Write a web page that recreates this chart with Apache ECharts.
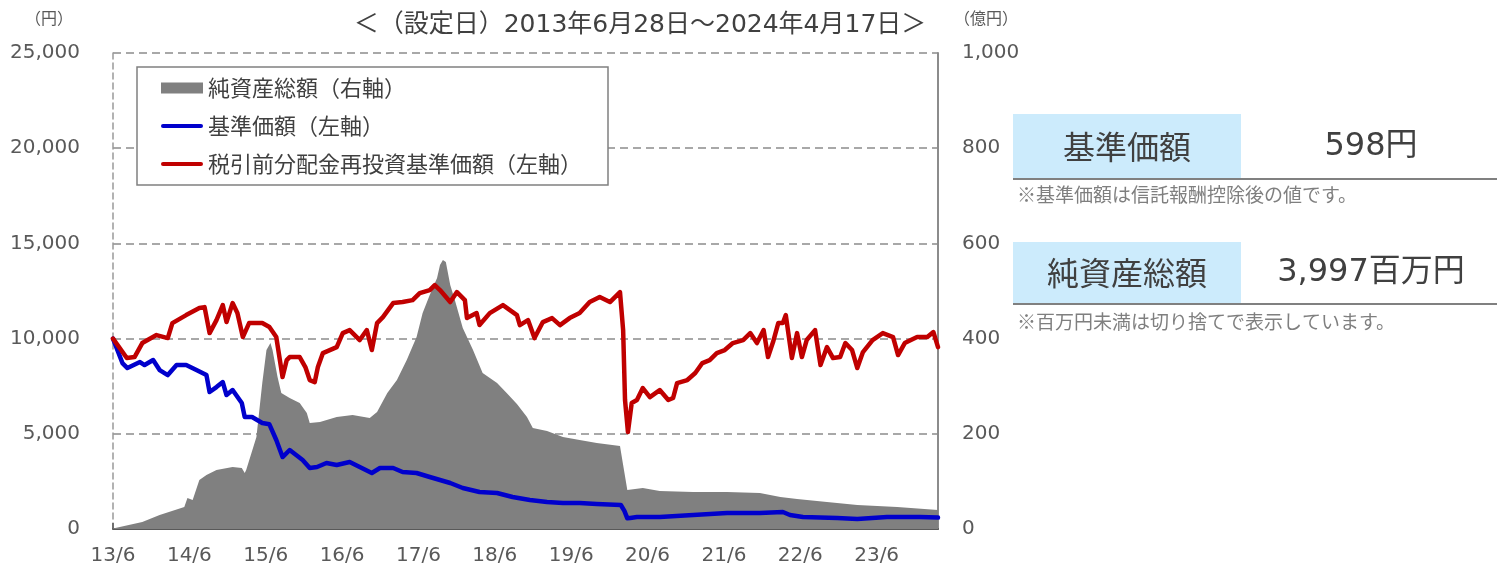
<!DOCTYPE html>
<html><head><meta charset="utf-8">
<script src="https://cdn.jsdelivr.net/npm/echarts@6/dist/echarts.min.js"></script>
<style>html,body{margin:0;padding:0;background:#fff}#c{width:1497px;height:572px}</style>
</head><body><div id="c"></div>
<script>
const startDate = '2013-06-28';
const endDate = '2024-04-17';
const xTickLabels = ['13/6','14/6','15/6','16/6','17/6','18/6','19/6','20/6','21/6','22/6','23/6'];
const titleText = '＜（設定日）2013年6月28日～2024年4月17日＞';
const seriesNames = ['純資産総額（右軸）','基準価額（左軸）','税引前分配金再投資基準価額（左軸）'];
const latestPrice = '598円';
const latestNav = '3,997百万円';

// 純資産総額 (億円)
const navDates = ['2013-06-28','2013-11-15','2014-02-06','2014-06-04','2014-06-19','2014-07-14','2014-08-15','2014-09-18','2014-11-05','2015-01-21','2015-03-06','2015-03-20','2015-03-27','2015-05-15','2015-06-12','2015-07-02','2015-07-21','2015-07-31','2015-08-24','2015-09-11','2015-10-21','2015-12-08','2016-01-11','2016-01-25','2016-03-14','2016-06-02','2016-08-17','2016-11-07','2016-12-12','2017-01-30','2017-03-17','2017-05-03','2017-06-19','2017-07-18','2017-08-21','2017-09-25','2017-10-09','2017-10-23','2017-11-06','2017-11-27','2017-12-19','2018-01-26','2018-03-16','2018-05-01','2018-07-09','2018-08-24','2018-10-12','2018-11-29','2018-12-27','2019-03-05','2019-05-20','2019-08-08','2019-10-29','2020-02-17','2020-03-03','2020-03-23','2020-06-05','2020-08-25','2021-02-01','2021-07-13','2021-12-17','2022-03-25','2022-06-13','2022-11-03','2023-03-28','2023-10-05','2024-04-17'];
const navValues = [1,14.7,29.4,46.2,65.1,60.9,102.9,113.4,123.9,130.2,128.1,117.6,123.9,193.2,306.6,375.9,390.6,375.9,319.2,285.6,275.1,264.6,243.6,222.6,224.7,235.2,239.4,233.1,245.7,285.6,312.9,354.9,403.2,453.6,491.4,527.1,554.4,564.9,560.7,512.4,480.9,422.1,375.9,327.6,306.6,285.6,262.5,235.2,212.1,205.8,193.2,186.9,180.6,174.3,134.4,81.9,86.1,79.8,77.7,77.7,75.6,67.2,63,56.7,50.4,46.2,39.97];

// 基準価額 (円)
const priceDates = ['2013-06-28','2013-08-12','2013-09-05','2013-11-04','2013-11-26','2014-01-06','2014-02-06','2014-03-17','2014-04-28','2014-06-13','2014-08-01','2014-09-18','2014-10-03','2014-11-05','2014-12-05','2014-12-23','2015-01-21','2015-03-06','2015-03-20','2015-04-24','2015-06-12','2015-07-16','2015-08-18','2015-09-17','2015-10-21','2015-12-22','2016-01-25','2016-02-29','2016-04-14','2016-06-02','2016-08-03','2016-09-20','2016-11-17','2016-12-26','2017-02-27','2017-04-13','2017-06-19','2017-08-21','2017-10-09','2017-11-27','2018-01-26','2018-04-16','2018-07-09','2018-09-21','2018-12-13','2019-03-05','2019-05-20','2019-08-08','2019-10-29','2020-02-21','2020-03-09','2020-03-23','2020-04-06','2020-05-08','2020-08-25','2021-02-01','2021-07-13','2021-12-17','2022-04-06','2022-05-10','2022-07-11','2022-12-22','2023-03-28','2023-08-17','2024-01-22','2024-04-17'];
const priceValues = [10000,8715,8453,8768,8610,8873,8348,8085,8610,8610,8348,8085,7193,7455,7718,7035,7298,6615,5880,5880,5565,5500,4673,3780,4148,3623,3203,3255,3465,3360,3518,3255,2940,3203,3203,2993,2940,2730,2573,2415,2153,1943,1890,1680,1523,1418,1365,1365,1313,1260,950,560,580,630,630,735,840,840,893,735,630,578,525,630,630,598];

// 税引前分配金再投資基準価額 (円)
const reinvDates = ['2013-06-28','2013-09-02','2013-10-09','2013-11-15','2014-01-22','2014-03-17','2014-04-08','2014-06-13','2014-08-15','2014-09-09','2014-10-03','2014-11-05','2014-12-05','2014-12-23','2015-01-21','2015-02-13','2015-03-11','2015-04-10','2015-06-12','2015-07-16','2015-08-18','2015-09-17','2015-10-07','2015-10-21','2015-12-08','2016-01-04','2016-01-25','2016-02-18','2016-03-04','2016-03-28','2016-06-02','2016-07-01','2016-08-03','2016-09-20','2016-10-24','2016-11-17','2016-12-12','2017-01-09','2017-02-27','2017-04-13','2017-05-31','2017-07-04','2017-08-21','2017-09-14','2017-10-09','2017-11-27','2017-12-29','2018-02-05','2018-02-15','2018-04-02','2018-04-16','2018-06-04','2018-08-06','2018-10-12','2018-10-26','2018-12-04','2019-01-04','2019-02-13','2019-03-29','2019-05-06','2019-06-21','2019-08-08','2019-09-25','2019-11-12','2019-12-31','2020-02-17','2020-03-03','2020-03-12','2020-03-26','2020-04-13','2020-05-08','2020-06-05','2020-07-09','2020-08-25','2020-10-05','2020-10-28','2020-11-16','2021-01-04','2021-02-11','2021-03-17','2021-04-21','2021-05-25','2021-07-02','2021-08-10','2021-09-28','2021-11-01','2021-12-03','2022-01-04','2022-01-25','2022-02-18','2022-03-15','2022-04-06','2022-04-20','2022-05-19','2022-06-13','2022-07-06','2022-07-29','2022-09-07','2022-10-03','2022-11-03','2022-12-02','2023-01-05','2023-01-30','2023-03-03','2023-03-28','2023-04-24','2023-06-09','2023-07-28','2023-09-15','2023-10-09','2023-11-10','2024-01-08','2024-02-26','2024-03-26','2024-04-17'];
const reinvValues = [10000,8980,9030,9765,10185,10028,10815,11235,11603,11655,10290,10973,11760,10868,11865,11340,10080,10815,10815,10605,10080,7980,8873,9030,9030,8505,7823,7718,8505,9240,9555,10290,10448,9923,10448,9398,10815,11130,11865,11918,12023,12390,12548,12810,12548,11918,12443,12023,11078,11340,10710,11340,11760,11235,10710,10973,10028,10868,11078,10710,11078,11340,11918,12180,11918,12443,10448,6773,5093,6615,6773,7403,6930,7298,6773,6878,7665,7823,8190,8715,8873,9240,9398,9765,9923,10290,9765,10448,9030,9818,10815,10815,11235,8978,10290,9030,9923,10448,8610,9555,8978,9030,9765,9398,8453,9293,9923,10290,10080,9135,9765,10080,10080,10343,9555];

const FONT = "'DejaVu Sans','Noto Sans CJK JP',sans-serif";
const CJK = "'Noto Sans CJK JP','DejaVu Sans',sans-serif";
const YEAR_MS = 365.25 * 86400000;
const t0 = Date.parse(startDate);
function yrs(d) { return (Date.parse(d) - t0) / YEAR_MS; }
function pairs(dates, vals) { return dates.map((d, i) => [yrs(d), vals[i]]); }
const LINE_ICON = 'path://M2,0H40A2,2 0 0 1 40,4H2A2,2 0 0 1 2,0Z';

const chart = echarts.init(document.getElementById('c'), null, {renderer: 'canvas'});
chart.setOption({
  animation: false,
  backgroundColor: '#ffffff',
  grid: {left: 113, right: 559, top: 53, bottom: 43, containLabel: false},
  legend: {
    left: 137, top: 67, orient: 'vertical',
    itemWidth: 42, itemHeight: 11, itemGap: 16, itemTextGap: 5,
    padding: [10, 26, 10, 24],
    borderColor: '#808080', borderWidth: 1.5, backgroundColor: '#ffffff',
    textStyle: {fontSize: 22, color: '#404040', fontFamily: CJK},
    data: [
      {name: seriesNames[0], icon: 'rect'},
      {name: seriesNames[1], icon: LINE_ICON},
      {name: seriesNames[2], icon: LINE_ICON}
    ]
  },
  xAxis: {
    type: 'value', min: 0, max: yrs(endDate), interval: 1,
    axisLine: {show: true, lineStyle: {color: '#595959', width: 2}},
    axisTick: {show: true, inside: true, length: 6, lineStyle: {color: '#595959', width: 1.5}},
    axisLabel: {
      margin: 17, color: '#595959', fontSize: 20, fontFamily: FONT, showMaxLabel: false,
      formatter: v => (Number.isInteger(v) && xTickLabels[v]) ? xTickLabels[v] : ''
    },
    splitLine: {show: false}
  },
  yAxis: [
    {
      type: 'value', min: 0, max: 25000, interval: 5000, position: 'left',
      axisLine: {show: true, lineStyle: {color: '#999999', width: 1.5, type: [6, 4]}},
      axisTick: {show: false},
      axisLabel: {margin: 33, color: '#595959', fontSize: 20, fontFamily: FONT,
        formatter: v => v.toLocaleString('en-US')},
      splitLine: {show: true, lineStyle: {color: '#8c8c8c', width: 1.5, type: [8, 5]}}
    },
    {
      type: 'value', min: 0, max: 1000, interval: 200, position: 'right',
      axisLine: {show: true, lineStyle: {color: '#8c8c8c', width: 2}},
      axisTick: {show: false},
      axisLabel: {margin: 24, color: '#595959', fontSize: 20, fontFamily: FONT,
        formatter: v => v.toLocaleString('en-US')},
      splitLine: {show: false}
    }
  ],
  series: [
    {
      name: seriesNames[0], type: 'line', yAxisIndex: 1, symbol: 'none', z: 1,
      data: pairs(navDates, navValues),
      lineStyle: {width: 0, color: '#808080'},
      itemStyle: {color: '#808080'},
      areaStyle: {color: '#808080', opacity: 1}
    },
    {
      name: seriesNames[1], type: 'line', yAxisIndex: 0, symbol: 'none', z: 3,
      data: pairs(priceDates, priceValues),
      lineStyle: {width: 4.5, color: '#0000CC', join: 'round', cap: 'round'},
      itemStyle: {color: '#0000CC'}
    },
    {
      name: seriesNames[2], type: 'line', yAxisIndex: 0, symbol: 'none', z: 3,
      data: pairs(reinvDates, reinvValues),
      lineStyle: {width: 4.5, color: '#C00000', join: 'round', cap: 'round'},
      itemStyle: {color: '#C00000'}
    }
  ],
  graphic: [
    {type: 'text', x: 49, y: 18, style: {text: '（円）', font: '16px ' + CJK, fill: '#595959', textAlign: 'center', textVerticalAlign: 'middle'}},
    {type: 'text', x: 986, y: 18, style: {text: '（億円）', font: '16px ' + CJK, fill: '#595959', textAlign: 'center', textVerticalAlign: 'middle'}},
    {type: 'text', x: 640, y: 25, style: {text: titleText, font: '25px ' + FONT, fill: '#404040', textAlign: 'center', textVerticalAlign: 'middle'}},
    {type: 'rect', shape: {x: 1013, y: 114, width: 228, height: 64}, style: {fill: '#CCEBFC'}},
    {type: 'line', shape: {x1: 1013, y1: 179, x2: 1497, y2: 179}, style: {stroke: '#808080', lineWidth: 2}},
    {type: 'text', x: 1127, y: 147, style: {text: '基準価額', font: '32px ' + CJK, fill: '#404040', textAlign: 'center', textVerticalAlign: 'middle'}},
    {type: 'text', x: 1371, y: 147, style: {text: latestPrice, font: '32px ' + FONT, fill: '#404040', textAlign: 'center', textVerticalAlign: 'middle'}},
    {type: 'text', x: 1017, y: 195, style: {text: '※基準価額は信託報酬控除後の値です。', font: '19px ' + CJK, fill: '#7f7f7f', textAlign: 'left', textVerticalAlign: 'middle'}},
    {type: 'rect', shape: {x: 1013, y: 242, width: 228, height: 61}, style: {fill: '#CCEBFC'}},
    {type: 'line', shape: {x1: 1013, y1: 304, x2: 1497, y2: 304}, style: {stroke: '#808080', lineWidth: 2}},
    {type: 'text', x: 1127, y: 273, style: {text: '純資産総額', font: '32px ' + CJK, fill: '#404040', textAlign: 'center', textVerticalAlign: 'middle'}},
    {type: 'text', x: 1371, y: 273, style: {text: latestNav, font: '32px ' + FONT, fill: '#404040', textAlign: 'center', textVerticalAlign: 'middle'}},
    {type: 'text', x: 1017, y: 322, style: {text: '※百万円未満は切り捨てで表示しています。', font: '19px ' + CJK, fill: '#7f7f7f', textAlign: 'left', textVerticalAlign: 'middle'}}
  ]
});
</script>
</body></html>
